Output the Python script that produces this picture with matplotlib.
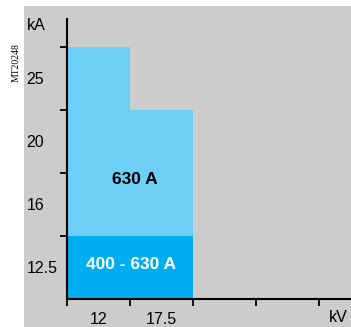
import matplotlib.pyplot as plt
from matplotlib.patches import Rectangle
import numpy as np

plt.rcParams['font.family'] = ['Liberation Sans', 'DejaVu Sans']

voltages = ['12', '17.5']
ka_levels = ['12.5', '16', '20', '25']
top_band = [4, 3]          # highest kA band reached per voltage column
low_band = [1, 1]          # bands covered by 400 - 630 A
label_high = '630 A'
label_low = '400 - 630 A'

light = '#6dcff6'
dark = '#00aeef'
grey = '#cccccc'

fig = plt.figure(figsize=(3.51, 3.27), dpi=100)
fig.patch.set_facecolor('white')
fig.patches.append(Rectangle((24 / 351, 0), 1 - 24 / 351, 1 - 6 / 327,
                             transform=fig.transFigure, facecolor=grey,
                             edgecolor='none', zorder=-5))

ax = fig.add_axes([67 / 351, 28 / 327, 284 / 351, 280 / 327])
ax.set_facecolor('none')
ax.set_zorder(2)

for i, v in enumerate(voltages):
    ax.bar(i, top_band[i], width=1, align='edge', color=light, zorder=1)
    ax.bar(i, low_band[i], width=1, align='edge', color=dark, zorder=2)

ax.text(1.07, 1.89, label_high, ha='center', va='center',
        fontsize=12.5, fontweight='bold', color='black', zorder=3)
ax.text(1.02, 0.55, label_low, ha='center', va='center',
        fontsize=12.5, fontweight='bold', color='white', zorder=3)

ax.set_xlim(0, 4.5)
ax.set_ylim(0, 4.44)

for s in ['top', 'right']:
    ax.spines[s].set_visible(False)
for s in ['left', 'bottom']:
    ax.spines[s].set_linewidth(1.5)

ax.set_xticks(np.arange(0, 5))
ax.set_xticklabels([])
ax.set_yticks(np.arange(1, 5))
ax.set_yticklabels([])
ax.tick_params(axis='both', which='major', length=5, width=1.3, direction='out')

ax.set_xticks(np.arange(len(voltages)) + 0.5, minor=True)
ax.set_xticklabels(voltages, minor=True, fontsize=11.5)
ax.set_yticks(np.arange(len(ka_levels)) + 0.5, minor=True)
ax.set_yticklabels(ka_levels, minor=True, fontsize=11.5)
ax.tick_params(axis='x', which='minor', length=0, pad=9)
ax.tick_params(axis='y', which='minor', length=0, pad=29)
for lbl in ax.get_yticklabels(minor=True):
    lbl.set_horizontalalignment('left')

fig.text(27 / 351, 1 - 25.5 / 327, 'kA', fontsize=11.5, ha='left', va='center')
fig.text(348 / 351, 1 - 317.5 / 327, 'kV', fontsize=11.5, ha='right', va='center')
fig.text(16 / 351, 1 - 62.5 / 327, 'MT20248', fontsize=7, rotation=90,
         ha='center', va='center', family='Liberation Serif')

fig.savefig('out.png', dpi=100, facecolor=fig.get_facecolor())
